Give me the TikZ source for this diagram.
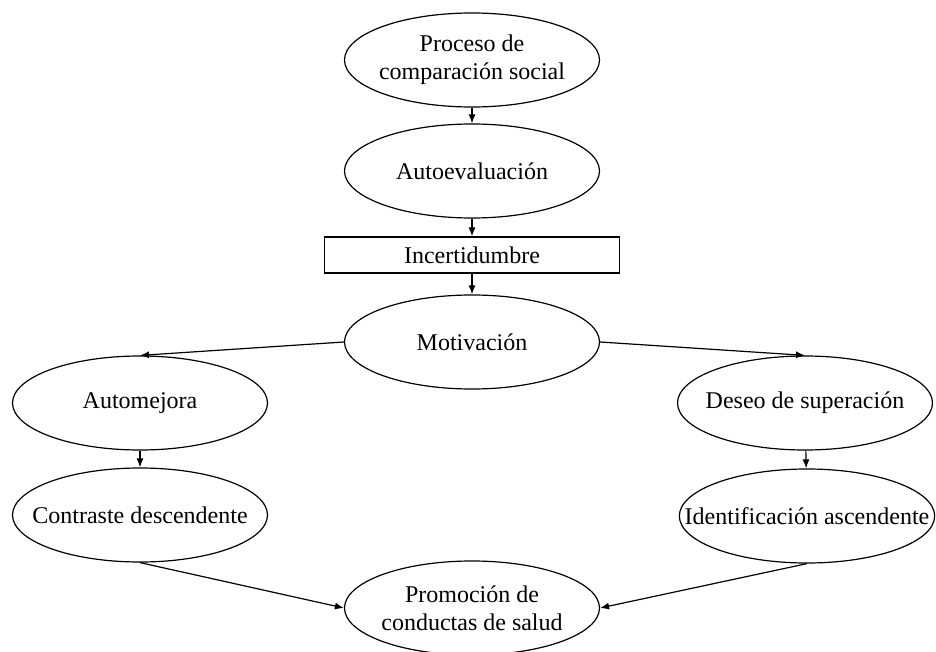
\documentclass[tikz,border=0pt]{standalone}
\usepackage{fontspec}
\setmainfont{Liberation Serif}
\usetikzlibrary{shapes.geometric,arrows.meta}

\begin{document}
\begin{tikzpicture}[x=0.5pt,y=-0.5pt,
		oval/.style={draw,ellipse,line width=0.6pt,minimum width=127.5pt,minimum height=47pt,
			inner xsep=-16pt,inner ysep=-3pt,align=center,font=\fontsize{12}{13.8}\selectfont},
		caja/.style={draw,rectangle,line width=0.6pt,minimum width=147.5pt,minimum height=18pt,
			inner sep=0pt,font=\fontsize{12}{13.8}\selectfont},
		flecha/.style={-{Latex[length=4.5pt,width=3.5pt]},line width=0.6pt}]
	\useasboundingbox (0,0) rectangle (936,652);
	
	\def\centro{472}
	
	% central column
	\node[oval] (proc) at (\centro,60) {Proceso de\\comparación social};
	\node[oval] (auto) at (\centro,171) {Autoevaluación};
	\node[caja] (inc) at (\centro,255) {Incertidumbre};
	\node[oval] (motiv) at (\centro,342) {Motivación};
	
	% two branches
	\node[oval] (mejora) at (140,403) {Automejora};
	\node[oval] (contr) at (140,515) {Contraste descendente};
	\node[oval] (deseo) at (805,403) {Deseo de superación};
	\node[oval] (ident) at (807,516) {Identificación ascendente};
	
	\node[oval] (promo) at (\centro,608) {Promoción de\\conductas de salud};
	
	\draw[flecha] (proc) -- (auto);
	\draw[flecha] (auto) -- (inc);
	\draw[flecha] (inc) -- (motiv);
	\draw[flecha] (motiv.west) -- (mejora.north);
	\draw[flecha] (motiv.east) -- (deseo.north);
	\draw[flecha] (mejora) -- (contr);
	\draw[flecha] (deseo) -- (ident);
	\draw[flecha] (contr.south) -- (promo.west);
	\draw[flecha] (ident.south) -- (promo.east);
\end{tikzpicture}
\end{document}
